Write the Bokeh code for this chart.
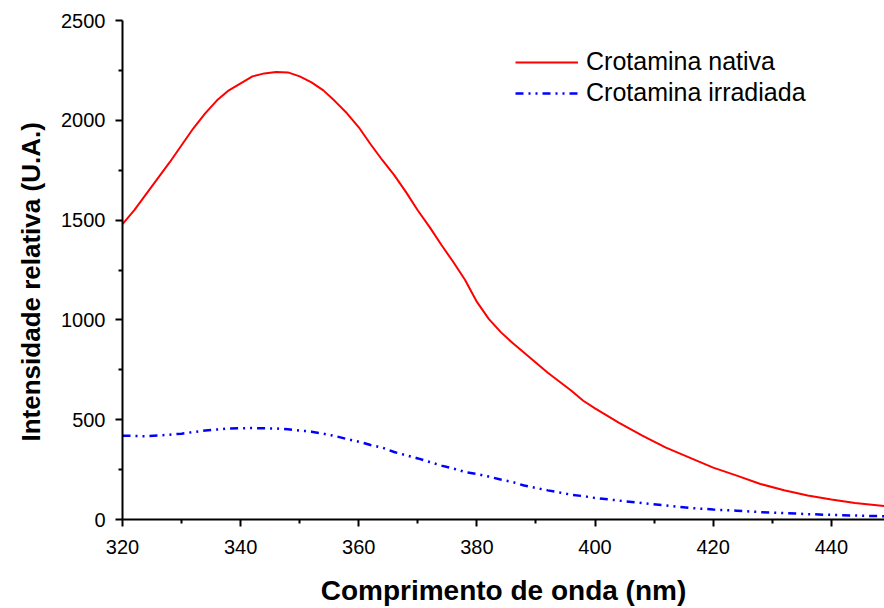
from bokeh.plotting import figure
from bokeh.models import Range1d, Legend, LegendItem, FixedTicker, Title
from bokeh.embed import file_html
from bokeh.resources import INLINE

# Wavelength (nm) and intensity readings
nativa_x = [320, 322, 324, 326, 328, 330, 332, 334, 336, 338, 340, 342, 344, 346, 348,
            350, 352, 354, 356, 358, 360, 362, 364, 366, 368, 370, 372, 374, 376, 378,
            380, 382, 384, 386, 388, 390, 392, 394, 396, 398, 400, 404, 408, 412, 416,
            420, 424, 428, 432, 436, 440, 444, 449]
nativa_y = [1480, 1550, 1630, 1710, 1790, 1875, 1960, 2035, 2100, 2150, 2185, 2220, 2235, 2242, 2240,
            2220, 2190, 2150, 2095, 2035, 1965, 1880, 1800, 1725, 1640, 1548, 1465, 1375, 1290, 1200,
            1090, 1005, 940, 885, 835, 785, 735, 690, 645, 595, 557, 485, 420, 360, 310,
            260, 220, 178, 147, 120, 100, 83, 67]

irradiada_x = [320, 324, 328, 330, 334, 338, 342, 346, 348, 352, 354, 356, 358, 360, 362,
               364, 366, 368, 370, 372, 374, 376, 378, 380, 382, 384, 386, 388, 390, 392,
               394, 396, 398, 400, 404, 408, 412, 416, 420, 424, 428, 432, 436, 440, 444, 449]
irradiada_y = [420, 417, 425, 430, 446, 456, 458, 456, 452, 440, 430, 418, 403, 390, 373,
               360, 338, 322, 306, 288, 270, 255, 238, 228, 215, 200, 188, 170, 158, 146,
               135, 124, 117, 108, 95, 82, 70, 58, 50, 44, 37, 32, 27, 23, 20, 16]

x_ticks = [320, 340, 360, 380, 400, 420, 440]
y_ticks = [0, 500, 1000, 1500, 2000, 2500]
x_label = "Comprimento de onda (nm)"
y_label = "Intensidade relativa (U.A.)"
labels = ["Crotamina nativa", "Crotamina irradiada"]

FONT = "Liberation Sans"

p = figure(width=884, height=608, output_backend="svg", toolbar_location=None,
           x_range=Range1d(320, 449), y_range=Range1d(0, 2500),
           min_border_left=122, min_border_right=0, min_border_top=20, min_border_bottom=88)
p.outline_line_color = None
p.xgrid.grid_line_color = None
p.ygrid.grid_line_color = None
p.background_fill_color = "white"
p.border_fill_color = "white"

r1 = p.line(nativa_x, nativa_y, line_color="#ff0000", line_width=2)
r2 = p.line(irradiada_x, irradiada_y, line_color="#0000ff", line_width=2.5,
            line_dash="8 5 2 5 2 5")

for ax in (p.xaxis[0], p.yaxis[0]):
    ax.axis_line_width = 2
    ax.axis_line_color = "black"
    ax.major_tick_line_width = 2
    ax.minor_tick_line_width = 2
    ax.major_tick_line_color = "black"
    ax.minor_tick_line_color = "black"
    ax.major_tick_out = 7
    ax.major_tick_in = 0
    ax.minor_tick_out = 4
    ax.minor_tick_in = 0
    ax.major_label_text_font = FONT
    ax.major_label_text_font_size = "20px"
    ax.major_label_text_color = "black"
    ax.axis_label_text_font = FONT
    ax.axis_label_text_font_style = "bold"
    ax.axis_label_text_color = "black"

p.xaxis[0].ticker = FixedTicker(ticks=x_ticks, minor_ticks=[330, 350, 370, 390, 410, 430])
p.yaxis[0].ticker = FixedTicker(ticks=y_ticks, minor_ticks=[250, 750, 1250, 1750, 2250])
p.xaxis[0].axis_label = x_label
p.xaxis[0].axis_label_text_font_size = "28px"
p.xaxis[0].major_label_standoff = 13
p.yaxis[0].major_label_standoff = 10
p.xaxis[0].axis_label_standoff = 18

ytitle = Title(text=y_label, align="left", offset=78, standoff=22, vertical_align="top",
               text_font=FONT, text_font_size="26px", text_font_style="bold",
               text_color="black")
p.add_layout(ytitle, "left")

legend = Legend(items=[LegendItem(label=labels[0], renderers=[r1]),
                       LegendItem(label=labels[1], renderers=[r2])],
                location=(393, 412), border_line_color=None, background_fill_alpha=0,
                label_text_font=FONT, label_text_font_size="25px", label_text_color="black",
                label_height=28, glyph_height=28,
                glyph_width=63, label_standoff=8, spacing=2, padding=0, margin=0)
p.add_layout(legend)

open("out.html", "w").write(file_html(p, INLINE))
